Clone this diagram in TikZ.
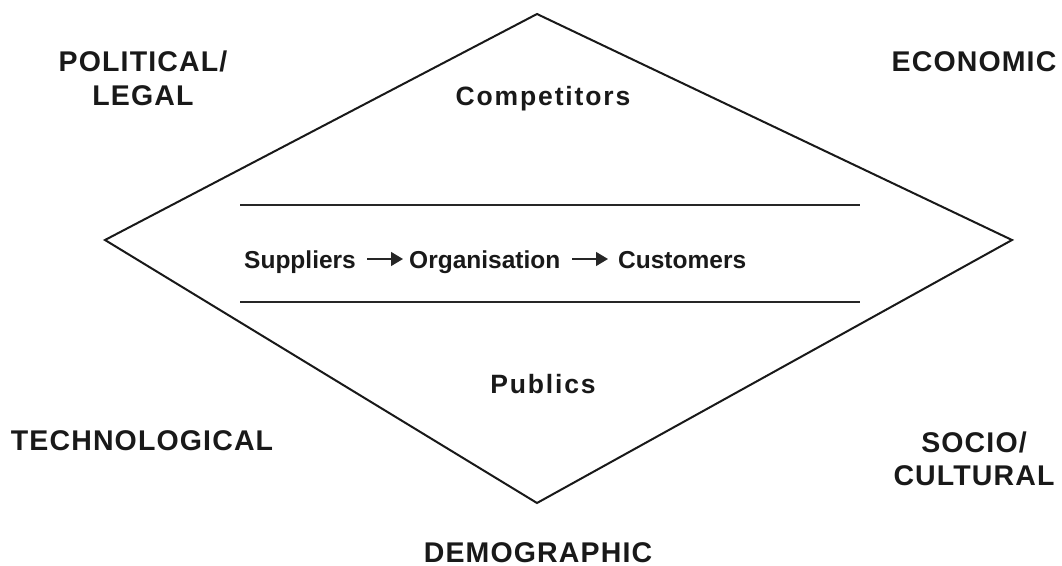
\documentclass[tikz,border=0pt]{standalone}
\usepackage{fontspec}
\setmainfont{Liberation Sans}
\newfontfamily\capsfont[LetterSpace=4]{Liberation Sans}
\newfontfamily\innerfont[LetterSpace=7]{Liberation Sans}
\usetikzlibrary{arrows.meta}
\begin{document}
\begin{tikzpicture}[x=1pt,y=-1pt,
  outer/.style={font=\capsfont\fontsize{28.5}{34}\selectfont\bfseries, text=black!90, inner sep=0pt, anchor=base},
  inner/.style={font=\innerfont\fontsize{26.5}{32}\selectfont\bfseries, text=black!90, inner sep=0pt, anchor=base},
  row/.style={font=\fontsize{24.5}{30}\selectfont\bfseries, text=black!90, inner sep=0pt, anchor=base west},
  flow/.style={line width=1.4pt, -{Triangle[length=12pt,width=14pt]}, black!85},
  rule/.style={line width=1.2pt, black!85},
  edge/.style={line width=2pt, black!90, line join=miter}]
\useasboundingbox (0,0) rectangle (1062,565);
\coordinate (T) at (537,14);
\coordinate (L) at (105,240);
\coordinate (R) at (1012,240);
\coordinate (B) at (537,503);
\draw[edge] (T) -- (R) -- (B) -- (L) -- cycle;
\coordinate (r1a) at (240,205); \coordinate (r1b) at (860,205);
\coordinate (r2a) at (240,302); \coordinate (r2b) at (860,302);
\draw[rule] (r1a) -- (r1b);
\draw[rule] (r2a) -- (r2b);
\node[outer] (pol) at (143,71) {POLITICAL/};
\node[outer] (leg) at (143,105) {LEGAL};
\node[outer] (eco) at (974,71) {ECONOMIC};
\node[inner] (comp) at (543,105) {Competitors};
\node[row] (sup) at (244,268) {Suppliers};
\node[row] (org) at (409,268) {Organisation};
\node[row] (cus) at (618,268) {Customers};
\coordinate (a1s) at (367,259); \coordinate (a1e) at (403,259);
\coordinate (a2s) at (572,259); \coordinate (a2e) at (608,259);
\draw[flow] (a1s) -- (a1e);
\draw[flow] (a2s) -- (a2e);
\node[inner] (pub) at (543,393) {Publics};
\node[outer] (tech) at (142,450) {TECHNOLOGICAL};
\node[outer] (soc) at (974,452) {SOCIO/};
\node[outer] (cul) at (974,485) {CULTURAL};
\node[outer] (dem) at (538,562) {DEMOGRAPHIC};
\end{tikzpicture}
\end{document}
